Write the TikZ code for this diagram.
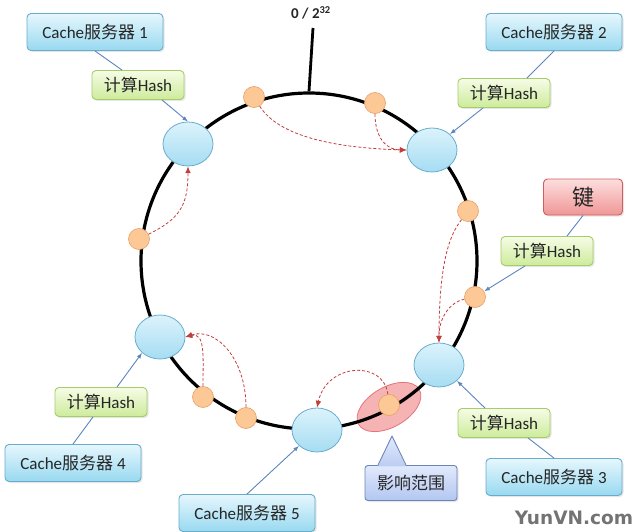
\documentclass[tikz,border=0pt]{standalone}
\usepackage{fontspec}
\setmainfont{Carlito}
\newfontfamily\cjk{Noto Sans CJK SC}
\newfontfamily\markfont{DejaVu Sans}
\usepackage{tikz}
\usetikzlibrary{arrows.meta,positioning,shapes.geometric,shadows}
\definecolor{cachetop}{RGB}{230,247,253}
\definecolor{cachebot}{RGB}{152,217,240}
\definecolor{cacheedge}{RGB}{105,172,204}
\definecolor{hashtop}{RGB}{246,252,230}
\definecolor{hashbot}{RGB}{205,235,155}
\definecolor{hashedge}{RGB}{165,205,105}
\definecolor{keytop}{RGB}{253,222,222}
\definecolor{keybot}{RGB}{240,150,150}
\definecolor{keyedge}{RGB}{205,95,95}
\definecolor{calltop}{RGB}{226,234,252}
\definecolor{callbot}{RGB}{178,198,240}
\definecolor{calledge}{RGB}{110,132,182}
\definecolor{srvtop}{RGB}{220,243,252}
\definecolor{srvbot}{RGB}{165,220,242}
\definecolor{srvedge}{RGB}{105,172,204}
\definecolor{pointfill}{RGB}{251,200,150}
\definecolor{pointedge}{RGB}{232,160,100}
\definecolor{zonefill}{RGB}{243,160,160}
\definecolor{zoneedge}{RGB}{228,115,125}
\definecolor{movecol}{RGB}{192,62,62}
\definecolor{hashcol}{RGB}{92,132,192}
\newcommand{\zh}[1]{{\cjk #1}}

\begin{document}
\begin{tikzpicture}[x=1pt,y=-1pt,
  every node/.style={align=center, inner sep=0pt, text=black!85},
  cachebox/.style={draw=cacheedge, line width=0.9pt, rounded corners=4pt,
    top color=cachetop, bottom color=cachebot, minimum width=136pt,
    minimum height=37pt, font=\fontsize{17}{19}\selectfont,
    drop shadow={opacity=0.2, shadow xshift=1.5pt, shadow yshift=-1.5pt}},
  hashbox/.style={cachebox, draw=hashedge, top color=hashtop, bottom color=hashbot,
    minimum width=92pt, minimum height=29pt},
  keybox/.style={cachebox, draw=keyedge, top color=keytop, bottom color=keybot,
    minimum width=79pt, minimum height=36pt, font=\fontsize{22}{24}\selectfont},
  callbox/.style={cachebox, draw=calledge, rounded corners=3pt,
    top color=calltop, bottom color=callbot, minimum width=92pt, minimum height=35pt},
  server/.style={ellipse, draw=srvedge, line width=0.8pt, top color=srvtop,
    bottom color=srvbot, minimum width=50pt, minimum height=44pt},
  point/.style={circle, draw=pointedge, line width=0.6pt, fill=pointfill, minimum size=21pt},
  zone/.style={ellipse, draw=zoneedge, line width=0.8pt, fill=zonefill, fill opacity=0.8,
    minimum width=70pt, minimum height=40pt, rotate=30},
  hashline/.style={draw=hashcol, line width=0.9pt},
  moveline/.style={draw=movecol, line width=0.8pt, dash pattern=on 3pt off 2pt,
    -{Latex[length=2.4mm,width=2mm]}}
]
\useasboundingbox (0,0) rectangle (640,532);

\node[zone] (zone) at (389,407) {};
\node[circle, draw, line width=3.2pt, minimum size=336pt] (ring) at (309,261) {};
\coordinate (top) at (313,28);
\draw[line width=2.8pt] (ring.north) -- (top);
\node[font=\bfseries\fontsize{15}{17}\selectfont] (zero) at (311,13) {0 / 2\textsuperscript{32}};

\node[server] (s1) at (188,144) {};
\node[server] (s2) at (432,150) {};
\node[server] (s3) at (439,365) {};
\node[server] (s4) at (160,337) {};
\node[server] (s5) at (317,430) {};

\node[point] (o1) at (254,97) {};
\node[point] (o2) at (375,103) {};
\node[point] (o3) at (468,211) {};
\node[point] (o4) at (475,297) {};
\node[point] (o5) at (389,405) {};
\node[point] (o6) at (139,239) {};
\node[point] (o7) at (203,397) {};
\node[point] (o8) at (246,418) {};

\node[cachebox] (c1) at (95,32) {Cache\zh{服务器} 1};
\node[cachebox] (c2) at (554,32) {Cache\zh{服务器} 2};
\node[cachebox] (c3) at (554,477) {Cache\zh{服务器} 3};
\node[cachebox] (c4) at (73,463) {Cache\zh{服务器} 4};
\node[cachebox] (c5) at (247,513) {Cache\zh{服务器} 5};
\node[keybox] (key) at (583,197) {\zh{键}};

\node[hashbox] (h1) at (138,85) {\zh{计算}Hash};
\node[hashbox] (h2) at (504,93) {\zh{计算}Hash};
\node[hashbox] (h3) at (547,251) {\zh{计算}Hash};
\node[hashbox] (h4) at (101,402) {\zh{计算}Hash};
\node[hashbox] (h5) at (504,423) {\zh{计算}Hash};

\coordinate (tip) at (392,436);
\node[callbox] (effect) at (411,483) {\zh{影响范围}};
\path[top color=calltop, bottom color=callbot!80!calltop]
  ([xshift=-33pt,yshift=-1.2pt]effect.north) -- (tip) -- ([xshift=-5pt,yshift=-1.2pt]effect.north) -- cycle;
\draw[calledge, line width=0.9pt, line join=round]
  ([xshift=-33pt]effect.north) -- (tip) -- ([xshift=-5pt]effect.north);

\draw[hashline] (c1.south) -- ([xshift=-16pt]h1.north);
\draw[hashline,-{Latex[length=2mm]}] ([xshift=24pt]h1.south) -- (s1.north);
\draw[hashline] (c2.south) -- ([xshift=23pt]h2.north);
\draw[hashline,-{Latex[length=2mm]}] ([xshift=-21pt]h2.south) -- (s2.north east);
\draw[hashline] (key.south) -- ([xshift=20pt]h3.north);
\draw[hashline,-{Latex[length=2mm]}] ([xshift=-22pt]h3.south) -- (o4);
\draw[hashline] (c3.north) -- ([xshift=24pt]h5.south);
\draw[hashline,-{Latex[length=2mm]}] ([xshift=-19pt]h5.north) -- (s3.south east);
\draw[hashline] (c4.north) -- ([xshift=-8pt]h4.south);
\draw[hashline,-{Latex[length=2mm]}] ([xshift=16pt]h4.north) -- (s4.south west);
\draw[hashline,-{Latex[length=2mm]}] (c5.north) -- (s5.south west);

\draw[moveline] (o1) .. controls +(25,40) and +(-70,-2) .. (s2.west);
\draw[moveline] (o2) .. controls +(0,35) and +(-20,0) .. (s2.west);
\draw[moveline] (o6) .. controls +(40,-20) and +(0,40) .. (s1.south);
\draw[moveline] (o3) .. controls +(-15,20) and +(0,-90) .. (s3.north);
\draw[moveline] (o4) .. controls +(-25,5) and +(0,-25) .. (s3.north);
\draw[moveline] (o7) .. controls +(0,-40) and +(20,-5) .. (s4.east);
\draw[moveline] (o8) .. controls +(0,-60) and +(30,-10) .. (s4.east);
\draw[moveline] (o5) .. controls +(-5,-45) and +(10,-45) .. (s5.north);

\node[font=\markfont\bfseries\fontsize{18.5}{20}\selectfont, text=black!55] (mark) at (574,518) {YunVN.com};
\end{tikzpicture}
\end{document}
